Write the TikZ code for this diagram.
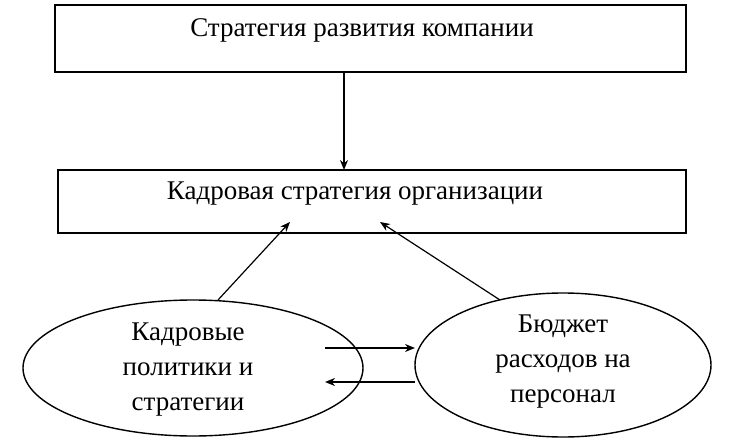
\documentclass[tikz,border=0pt]{standalone}
\usepackage{fontspec}
\setmainfont{Liberation Serif}
\usetikzlibrary{arrows.meta}
\begin{document}
\begin{tikzpicture}[x=1pt,y=-1pt,
 box/.style={draw,line width=1.4pt},
 txt/.style={font=\fontsize{27}{35}\selectfont,align=center},
 arr/.style={-{Stealth[length=10pt,width=8pt]},line width=1.5pt}]
\useasboundingbox (0,0) rectangle (740,442);
\draw[box] (55,5) rectangle (686,72);
\node[txt] (t1) at (362,30) {Стратегия развития компании};
\draw[box] (58,170) rectangle (686,233);
\node[txt] (t2) at (355,194) {Кадровая стратегия организации};
\coordinate (a1) at (344,72); \coordinate (a2) at (344,170);
\draw[arr] (a1) -- (a2);
\draw[line width=1.4pt] (193,368) ellipse [x radius=170,y radius=68];
\draw[line width=1.4pt] (563,365) ellipse [x radius=148,y radius=72];
\node[txt] (l) at (188,370) {Кадровые\\политики и\\стратегии};
\node[txt] (r) at (563,362) {Бюджет\\расходов на\\персонал};
\coordinate (b1) at (218,300); \coordinate (b2) at (290,222);
\coordinate (c1) at (500,300); \coordinate (c2) at (380,222);
\draw[arr,line width=1.2pt] (b1) -- (b2);
\draw[arr,line width=1.2pt] (c1) -- (c2);
\coordinate (d1) at (325,348); \coordinate (d2) at (415,348);
\coordinate (e1) at (415,382); \coordinate (e2) at (325,382);
\draw[arr,line width=2.2pt] (d1) -- (d2);
\draw[arr,line width=2.2pt] (e1) -- (e2);
\end{tikzpicture}
\end{document}
